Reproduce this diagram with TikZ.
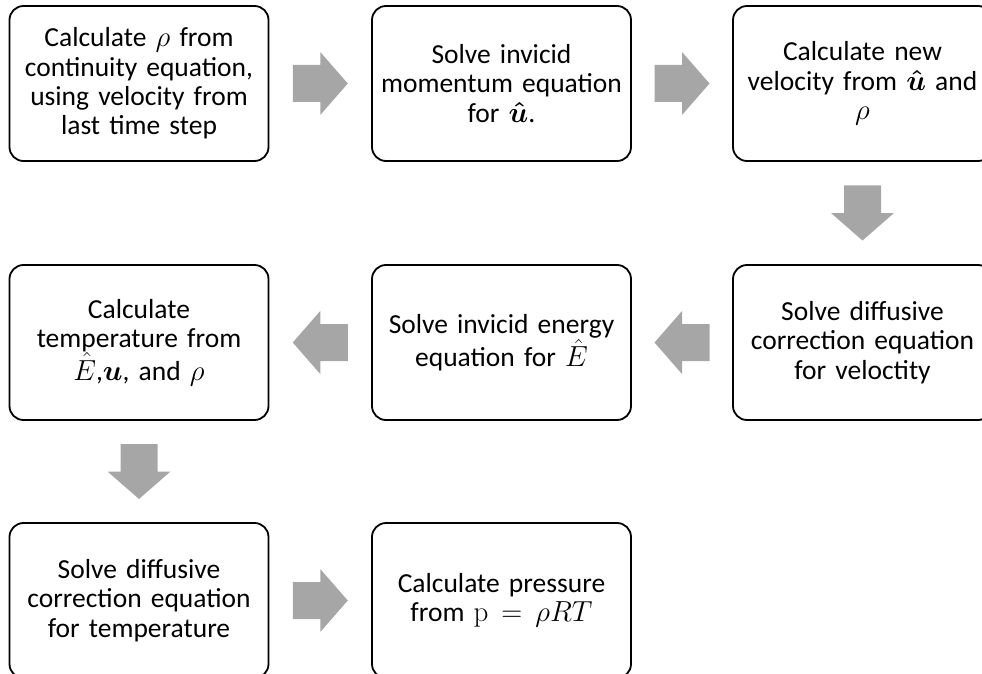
\RequirePackage{fix-cm}
\documentclass[tikz,border=0pt]{standalone}
\usepackage{amsmath}
\usepackage{bm}
\usepackage[no-math]{fontspec}
\setmainfont{Carlito}
\usetikzlibrary{calc}
\definecolor{arrowgray}{HTML}{A6A6A6}
\newcommand{\mth}[1]{{\fontsize{29bp}{29.3bp}\selectfont$#1$}}
\tikzset{
  stepbox/.style={draw=black, line width=1.8bp, rounded corners=14bp, fill=white,
    minimum width=259bp, minimum height=155bp, text width=250bp, align=center,
    inner sep=0pt, font=\fontsize{27.5bp}{29.3bp}\selectfont},
  pics/blockarrow/.style={code={
    \fill[arrowgray] (-27.5bp,-18.5bp) -- (0bp,-18.5bp) -- (0bp,-31.5bp) -- (27.5bp,0bp)
      -- (0bp,31.5bp) -- (0bp,18.5bp) -- (-27.5bp,18.5bp) -- cycle;}}
}
\begin{document}
\begin{tikzpicture}[x=1bp,y=-1bp]
\useasboundingbox (0,0) rectangle (982,674);
\clip (0,0) rectangle (982,674);
\node[stepbox] (b1) at (139,83.5) {Calculate \mth{\rho} from\\continuity equation,\\using velocity from\\last time step};
\node[stepbox] (b2) at (501.5,83.5) {Solve invicid\\momentum equation\\for \mth{\bm{\hat{u}}}.};
\node[stepbox] (b3) at (862.5,83.5) {Calculate new\\velocity from \mth{\bm{\hat{u}}} and\\\mth{\rho}};
\node[stepbox] (b4) at (862.5,342.5) {Solve diffusive\\correction equation\\for veloctity};
\node[stepbox] (b5) at (501.5,342.5) {Solve invicid energy\\equation for \mth{\hat{E}}};
\node[stepbox] (b6) at (139,342.5) {Calculate\\temperature from\\\mth{\hat{E}},\mth{\bm{u}}, and \mth{\rho}};
\node[stepbox] (b7) at (139,600.5) {Solve diffusive\\correction equation\\for temperature};
\node[stepbox] (b8) at (501.5,600.5) {Calculate pressure\\from \mth{\mathrm{p}=\rho RT}};
\coordinate (a12) at ($(b1.east)!0.5!(b2.west)$);
\coordinate (a23) at ($(b2.east)!0.5!(b3.west)$);
\coordinate (a34) at ($(b3.south)!0.5!(b4.north)$);
\coordinate (a45) at ($(b4.west)!0.5!(b5.east)$);
\coordinate (a56) at ($(b5.west)!0.5!(b6.east)$);
\coordinate (a67) at ($(b6.south)!0.5!(b7.north)$);
\coordinate (a78) at ($(b7.east)!0.5!(b8.west)$);
\pic at (a12) {blockarrow};
\pic at (a23) {blockarrow};
\pic[rotate=-90] at (a34) {blockarrow};
\pic[rotate=180] at (a45) {blockarrow};
\pic[rotate=180] at (a56) {blockarrow};
\pic[rotate=-90] at (a67) {blockarrow};
\pic at (a78) {blockarrow};
\end{tikzpicture}
\end{document}
